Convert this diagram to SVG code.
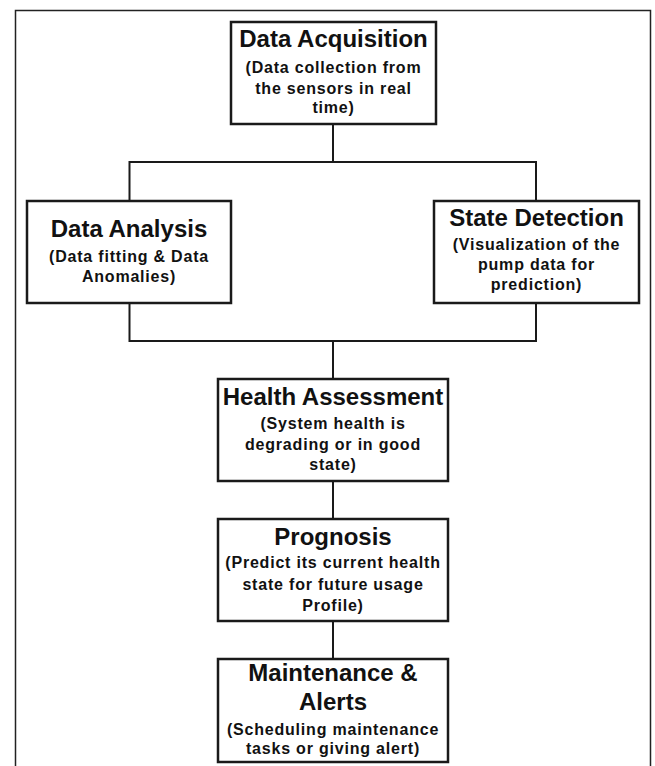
<svg xmlns="http://www.w3.org/2000/svg" width="655" height="766" viewBox="0 0 655 766">
<style>
.box{fill:#fff;stroke:#1a1a1a;stroke-width:2.5}
.ln{fill:none;stroke:#1a1a1a;stroke-width:2}
.t{font-family:"Liberation Sans",Arial,sans-serif;font-weight:bold;font-size:24px;fill:#111;text-anchor:middle}
.s{font-family:"Liberation Sans",Arial,sans-serif;font-weight:bold;font-size:16px;letter-spacing:0.8px;fill:#111;text-anchor:middle}
</style>
<rect x="0" y="0" width="655" height="766" fill="#fff"/>
<path d="M15.5 770 V10.5 H650.5 V770" fill="none" stroke="#222" stroke-width="1.5"/>
<g id="connectors">
<path class="ln" d="M333 124 V162 M129.5 201 V162 H536 V201"/>
<path class="ln" d="M129.5 303 V341 H536 V303 M333 341 V379"/>
<path class="ln" d="M333 481 V519"/>
<path class="ln" d="M333 621 V659"/>
</g>
<g id="data-acquisition">
<rect class="box" x="231" y="22" width="205" height="102"/>
<text class="t" x="333.5" y="47">Data Acquisition</text>
<text class="s" x="333.5" y="73">(Data collection from</text>
<text class="s" x="333.5" y="94">the sensors in real</text>
<text class="s" x="333.5" y="113">time)</text>
</g>
<g id="data-analysis">
<rect class="box" x="27" y="201" width="204" height="102"/>
<text class="t" x="129" y="237">Data Analysis</text>
<text class="s" x="129" y="262">(Data fitting &amp; Data</text>
<text class="s" x="129" y="282">Anomalies)</text>
</g>
<g id="state-detection">
<rect class="box" x="434" y="201" width="205" height="102"/>
<text class="t" x="536.5" y="226">State Detection</text>
<text class="s" x="536.5" y="250">(Visualization of the</text>
<text class="s" x="536.5" y="270">pump data for</text>
<text class="s" x="536.5" y="290">prediction)</text>
</g>
<g id="health-assessment">
<rect class="box" x="218" y="379" width="230" height="102"/>
<text class="t" x="333" y="405">Health Assessment</text>
<text class="s" x="333" y="429">(System health is</text>
<text class="s" x="333" y="450">degrading or in good</text>
<text class="s" x="333" y="470">state)</text>
</g>
<g id="prognosis">
<rect class="box" x="218" y="519" width="230" height="102"/>
<text class="t" x="333" y="545">Prognosis</text>
<text class="s" x="333" y="568">(Predict its current health</text>
<text class="s" x="333" y="590">state for future usage</text>
<text class="s" x="333" y="611">Profile)</text>
</g>
<g id="maintenance-alerts">
<rect class="box" x="218" y="659" width="230" height="103"/>
<text class="t" x="333" y="681">Maintenance &amp;</text>
<text class="t" x="333" y="710">Alerts</text>
<text class="s" x="333" y="735">(Scheduling maintenance</text>
<text class="s" x="333" y="754">tasks or giving alert)</text>
</g>
</svg>
